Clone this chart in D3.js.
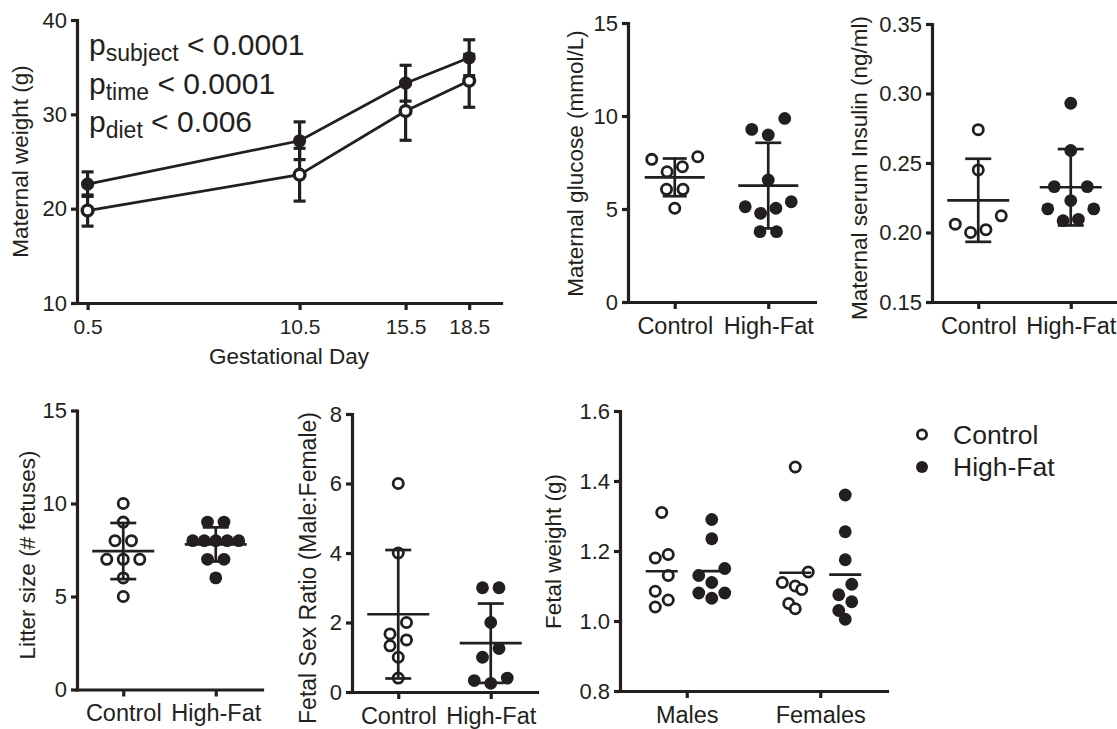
<!DOCTYPE html>
<html><head><meta charset="utf-8">
<script src="https://cdn.jsdelivr.net/npm/d3@7"></script>
<style>
body{margin:0;background:#fff;}
svg{display:block;}
</style></head><body>
<svg id="chart" width="1117" height="729"></svg>
<script>
// ---------------- DATA ----------------
const gestDays = [0.5, 10.5, 15.5, 18.5];
const gestDayLabels = ["0.5", "10.5", "15.5", "18.5"];
const weightControlMean = [19.8, 23.6, 30.35, 33.55];
const weightControlSD = [1.65, 2.8, 3.1, 2.8];
const weightHFMean = [22.6, 27.2, 33.3, 36.0];
const weightHFSD = [1.3, 2.0, 1.9, 1.9];
const weightTicks = [10, 20, 30, 40];
const pLabels = [["subject", "< 0.0001"], ["time", "< 0.0001"], ["diet", "< 0.006"]];

const groups = ["Control", "High-Fat"];
const glucoseControl = [7.81, 7.67, 7.27, 7.0, 6.06, 6.06, 5.04];
const glucoseHF = [9.87, 9.28, 8.98, 6.56, 5.39, 5.12, 5.04, 4.77, 3.78, 3.78];
const glucoseTicks = [0, 5, 10, 15];

const insulinControl = [0.274, 0.245, 0.212, 0.206, 0.202, 0.200];
const insulinHF = [0.293, 0.259, 0.233, 0.233, 0.223, 0.217, 0.217, 0.2095, 0.2085];
const insulinTicks = [0.15, 0.20, 0.25, 0.30, 0.35];

const litterControl = [10, 9, 8, 8, 7, 7, 7, 6, 5];
const litterHF = [9, 9, 8, 8, 8, 8, 8, 7, 7, 6];
const litterTicks = [0, 5, 10, 15];

const sexRatioControl = [6, 4, 2, 1.67, 1.5, 1.33, 1.0, 0.4];
const sexRatioHF = [3, 3, 2, 1.25, 1.0, 0.4, 0.33, 0.25];
const sexRatioTicks = [0, 2, 4, 6, 8];

const sexes = ["Males", "Females"];
const fetalMalesControl = [1.31, 1.19, 1.18, 1.13, 1.085, 1.06, 1.04];
const fetalMalesHF = [1.29, 1.235, 1.15, 1.13, 1.11, 1.08, 1.08, 1.065];
const fetalFemalesControl = [1.44, 1.14, 1.11, 1.10, 1.09, 1.05, 1.035];
const fetalFemalesHF = [1.36, 1.255, 1.175, 1.105, 1.075, 1.055, 1.03, 1.005];
const fetalTicks = [0.8, 1.0, 1.2, 1.4, 1.6];

// ---------------- DRAWING ----------------
const INK = "#231f20";
const FONT = '"Liberation Sans", Arial, Helvetica, sans-serif';
const svg = d3.select("#chart").attr("font-family", FONT);

function styleAxis(g, size) {
  g.attr("font-family", FONT).attr("font-size", size).attr("color", INK);
  g.select(".domain").attr("stroke-width", 3.2).attr("stroke-linecap", "square");
  g.selectAll(".tick line").attr("stroke-width", 3.2);
}
function leftAxis(x0, y, ticks, fmt) {
  const g = svg.append("g").attr("transform", `translate(${x0},0)`)
    .call(d3.axisLeft(y).tickValues(ticks).tickFormat(fmt).tickSize(6).tickSizeOuter(0).tickPadding(4));
  styleAxis(g, 22);
}
function bottomAxis(y0, x, ticks, fmt, size, pad) {
  const ax = d3.axisBottom(x).tickSize(7).tickSizeOuter(0).tickPadding(pad);
  if (ticks) ax.tickValues(ticks);
  if (fmt) ax.tickFormat(fmt);
  const g = svg.append("g").attr("transform", `translate(0,${y0})`).call(ax);
  styleAxis(g, size);
}
function yTitle(text, bx, cy, size) {
  svg.append("text").attr("transform", `translate(${bx},${cy}) rotate(-90)`)
    .attr("text-anchor", "middle").attr("font-size", size || 22.5).attr("fill", INK).text(text);
}

// row-based swarm layout (Prism-like)
function swarm(values, y, opt) {
  const pts = values.map(v => ({ v, py: y(v) })).sort((a, b) => a.py - b.py);
  const rows = [];
  let cur = null;
  pts.forEach(p => {
    if (!cur || p.py - cur[0].py > opt.bin) { cur = [p]; rows.push(cur); } else cur.push(p);
  });
  rows.forEach(row => {
    const n = row.length;
    const s = n > 1 ? Math.min(opt.s, opt.span / (n - 1)) : 0;
    const slots = [];
    for (let k = 0; k < Math.floor(n / 2); k++) {
      const off = ((n - 1) / 2 - k) * s;
      slots.push(off, -off);
    }
    if (n % 2) slots.push(0);
    row.forEach((p, i) => p.dx = slots[i]);
  });
  return pts;
}
function dots(values, cx, y, filled, opt) {
  const pts = swarm(values, y, opt);
  svg.append("g").selectAll("circle").data(pts).join("circle")
    .attr("cx", d => cx + d.dx).attr("cy", d => d.py)
    .attr("r", filled ? 6.4 : 5.1)
    .attr("fill", filled ? INK : "#fff")
    .attr("stroke", filled ? "none" : INK)
    .attr("stroke-width", filled ? 0 : 2.8);
}
function meanSD(values, cx, y, meanHalf, capHalf, withSD) {
  const m = d3.mean(values), s = d3.deviation(values);
  const g = svg.append("g").attr("stroke", INK).attr("stroke-width", 2.7);
  g.append("line").attr("x1", cx - meanHalf).attr("x2", cx + meanHalf).attr("y1", y(m)).attr("y2", y(m));
  if (withSD) {
    g.append("line").attr("x1", cx).attr("x2", cx).attr("y1", y(m - s)).attr("y2", y(m + s));
    [m - s, m + s].forEach(v => g.append("line").attr("x1", cx - capHalf).attr("x2", cx + capHalf)
      .attr("y1", y(v)).attr("y2", y(v)));
  }
}
const mainSwarm = { bin: 17.2, s: 16.5, span: 46 };

// ---- Panel A: maternal weight ----
{
  const x = d3.scaleLinear().domain([0, 20]).range([77, 501]);
  const y = d3.scaleLinear().domain([10, 40]).range([303, 20]);
  leftAxis(77, y, weightTicks, d3.format("d"));
  bottomAxis(303, x, gestDays, (d, i) => gestDayLabels[i], 21, 9);
  svg.append("text").attr("x", 289).attr("y", 364).attr("text-anchor", "middle")
    .attr("font-size", 22.5).attr("fill", INK).text("Gestational Day");
  yTitle("Maternal weight (g)", 28, 161.5);

  const line = d3.line().x((d, i) => x(gestDays[i])).y(d => y(d));
  [weightHFMean, weightControlMean].forEach(ser => {
    svg.append("path").datum(ser).attr("d", line).attr("fill", "none")
      .attr("stroke", INK).attr("stroke-width", 2.8);
  });
  const eb = svg.append("g").attr("stroke", INK).attr("stroke-width", 3.2);
  [[weightHFMean, weightHFSD], [weightControlMean, weightControlSD]].forEach(([m, sd]) => {
    m.forEach((v, i) => {
      const cx = x(gestDays[i]);
      eb.append("line").attr("x1", cx).attr("x2", cx).attr("y1", y(v - sd[i])).attr("y2", y(v + sd[i]));
      [v - sd[i], v + sd[i]].forEach(w => eb.append("line").attr("x1", cx - 6).attr("x2", cx + 6)
        .attr("y1", y(w)).attr("y2", y(w)));
    });
  });
  svg.append("g").selectAll("circle").data(weightHFMean).join("circle")
    .attr("cx", (d, i) => x(gestDays[i])).attr("cy", d => y(d)).attr("r", 6.6).attr("fill", INK);
  svg.append("g").selectAll("circle").data(weightControlMean).join("circle")
    .attr("cx", (d, i) => x(gestDays[i])).attr("cy", d => y(d)).attr("r", 5.4)
    .attr("fill", "#fff").attr("stroke", INK).attr("stroke-width", 3.4);

  const pt = svg.append("g").attr("fill", INK);
  pLabels.forEach((p, i) => {
    const t = pt.append("text").attr("x", 89).attr("y", 55 + i * 38.5).attr("font-size", 30);
    t.append("tspan").text("p");
    t.append("tspan").attr("font-size", 23).attr("dy", 6).text(p[0]);
    t.append("tspan").attr("dy", -6).text(" " + p[1]);
  });
}

// ---- Panel B: glucose ----
{
  const y = d3.scaleLinear().domain([0, 15]).range([302, 23]);
  const x = d3.scalePoint().domain(groups).range([628, 815]).padding(0.5);
  leftAxis(628, y, glucoseTicks, d3.format("d"));
  bottomAxis(302, x, null, null, 23.5, 8);
  yTitle("Maternal glucose (mmol/L)", 583, 163.5);
  dots(glucoseControl, x("Control"), y, false, mainSwarm);
  dots(glucoseHF, x("High-Fat"), y, true, mainSwarm);
  meanSD(glucoseControl, x("Control"), y, 30, 12, true);
  meanSD(glucoseHF, x("High-Fat"), y, 30, 13, true);
}

// ---- Panel C: insulin ----
{
  const y = d3.scaleLinear().domain([0.15, 0.35]).range([302, 24]);
  const x = d3.scalePoint().domain(groups).range([932, 1117]).padding(0.5);
  leftAxis(932, y, insulinTicks, d3.format(".2f"));
  bottomAxis(302, x, null, null, 23.5, 8);
  yTitle("Maternal serum Insulin (ng/ml)", 866.5, 168);
  dots(insulinControl, x("Control"), y, false, mainSwarm);
  dots(insulinHF, x("High-Fat"), y, true, mainSwarm);
  meanSD(insulinControl, x("Control"), y, 31, 13, true);
  meanSD(insulinHF, x("High-Fat"), y, 31, 13, true);
}

// ---- Panel D: litter size ----
{
  const y = d3.scaleLinear().domain([0, 15]).range([689.5, 410.5]);
  const x = d3.scalePoint().domain(groups).range([77, 262]).padding(0.5);
  leftAxis(77, y, litterTicks, d3.format("d"));
  bottomAxis(689.5, x, null, null, 23.5, 8);
  yTitle("Litter size (# fetuses)", 34.5, 555);
  dots(litterControl, x("Control"), y, false, mainSwarm);
  dots(litterHF, x("High-Fat"), y, true, mainSwarm);
  meanSD(litterControl, x("Control"), y, 31, 13, true);
  meanSD(litterHF, x("High-Fat"), y, 31, 13, true);
}

// ---- Panel E: sex ratio ----
{
  const y = d3.scaleLinear().domain([0, 8]).range([692, 414]);
  const x = d3.scalePoint().domain(groups).range([352, 537]).padding(0.5);
  leftAxis(352, y, sexRatioTicks, d3.format("d"));
  bottomAxis(692, x, null, null, 23.5, 8);
  yTitle("Fetal Sex Ratio (Male:Female)", 316, 568, 23);
  dots(sexRatioControl, x("Control"), y, false, mainSwarm);
  dots(sexRatioHF, x("High-Fat"), y, true, mainSwarm);
  meanSD(sexRatioControl, x("Control"), y, 31, 13, true);
  meanSD(sexRatioHF, x("High-Fat"), y, 31, 13, true);
}

// ---- Panel F: fetal weight ----
{
  const y = d3.scaleLinear().domain([0.8, 1.6]).range([691, 411]);
  const x = d3.scalePoint().domain(sexes).range([620, 887]).padding(0.5);
  const sub = d3.scalePoint().domain(groups).range([-25, 25]);
  leftAxis(620, y, fetalTicks, d3.format(".1f"));
  bottomAxis(691, x, null, null, 23.5, 8);
  yTitle("Fetal weight (g)", 561, 551.5);
  const fw = { bin: 16, s: 13, span: 26 };
  const sets = [
    ["Males", "Control", fetalMalesControl], ["Males", "High-Fat", fetalMalesHF],
    ["Females", "Control", fetalFemalesControl], ["Females", "High-Fat", fetalFemalesHF]
  ];
  sets.forEach(([sx, grp, vals]) => {
    const cx = x(sx) + sub(grp);
    dots(vals, cx, y, grp === "High-Fat", fw);
    meanSD(vals, cx, y, 16, 0, false);
  });
}

// ---- Legend ----
{
  const lg = svg.append("g");
  lg.selectAll("circle").data(groups).join("circle")
    .attr("cx", 922).attr("cy", (d, i) => 434.5 + i * 32.5)
    .attr("r", (d, i) => i ? 6 : 4.6)
    .attr("fill", (d, i) => i ? INK : "#fff")
    .attr("stroke", (d, i) => i ? "none" : INK).attr("stroke-width", 2.8);
  lg.selectAll("text").data(groups).join("text")
    .attr("x", 953).attr("y", (d, i) => 444 + i * 31.5)
    .attr("font-size", 26.5).attr("fill", INK).text(d => d);
}
</script>
</body></html>
